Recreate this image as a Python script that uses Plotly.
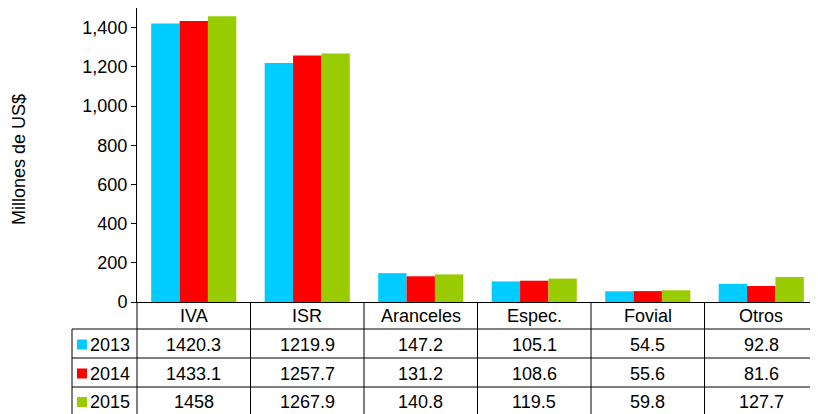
import plotly.graph_objects as go

categories = ["IVA", "ISR", "Aranceles", "Espec.", "Fovial", "Otros"]
years = ["2013", "2014", "2015"]
v2013 = [1420.3, 1219.9, 147.2, 105.1, 54.5, 92.8]
v2014 = [1433.1, 1257.7, 131.2, 108.6, 55.6, 81.6]
v2015 = [1458, 1267.9, 140.8, 119.5, 59.8, 127.7]
labels2013 = ["1420.3", "1219.9", "147.2", "105.1", "54.5", "92.8"]
labels2014 = ["1433.1", "1257.7", "131.2", "108.6", "55.6", "81.6"]
labels2015 = ["1458", "1267.9", "140.8", "119.5", "59.8", "127.7"]
colors = ["#00CCFF", "#FF0000", "#99CC00"]

# the page places the figure 8px from the window's top-left corner
W, H = 810, 406
L, T, B0 = 129, 0, 294  # plot left, top, bottom (figure pixels)
R = W
ph = B0 - T
pw = R - L
FONT = "Liberation Sans, Arial, sans-serif"
FS = 18

def py(ypx):
    return (B0 - ypx) / ph

def px(xpx):
    return (xpx - L) / pw

fig = go.Figure()
series = [v2013, v2014, v2015]
for yr, vals, c in zip(years, series, colors):
    fig.add_trace(go.Bar(x=categories, y=vals, name=yr, marker=dict(color=c, line=dict(width=0))))

shapes = []
line = dict(color="black", width=1)
row_lines = [321, 350, 379]
for yl in row_lines:
    shapes.append(dict(type="line", xref="paper", yref="paper", x0=px(64), x1=1.0,
                       y0=py(yl), y1=py(yl), line=line))
shapes.append(dict(type="line", xref="paper", yref="paper", x0=px(64), x1=px(64),
                   y0=py(321), y1=py(H + 5), line=line))
n = len(categories)
for k in range(n + 1):
    shapes.append(dict(type="line", xref="paper", yref="paper", x0=k / n, x1=k / n,
                       y0=0, y1=py(H + 5), line=line))

annotations = []
row_centers = [308, 336.5, 365.5, 394]
for i, cat in enumerate(categories):
    annotations.append(dict(x=cat, xref="x", y=py(row_centers[0]), yref="paper", text=cat,
                            showarrow=False, font=dict(size=FS, color="black", family=FONT),
                            xanchor="center", yanchor="middle"))
for r, labs in enumerate([labels2013, labels2014, labels2015]):
    for i, cat in enumerate(categories):
        annotations.append(dict(x=cat, xref="x", y=py(row_centers[r + 1]), yref="paper", text=labs[i],
                                showarrow=False, font=dict(size=FS, color="black", family=FONT),
                                xanchor="center", yanchor="middle"))
    yc = row_centers[r + 1]
    shapes.append(dict(type="rect", xref="paper", yref="paper", x0=px(69), x1=px(79),
                       y0=py(yc + 5), y1=py(yc - 5), fillcolor=colors[r], line=dict(width=0)))
    annotations.append(dict(x=px(80), xref="paper", y=py(yc), yref="paper", text=years[r],
                            showarrow=False, font=dict(size=FS, color="black", family=FONT),
                            xanchor="left", yanchor="middle"))

annotations.append(dict(x=px(11), xref="paper", y=py(152), yref="paper", text="Millones de US$",
                        textangle=-90, showarrow=False, font=dict(size=FS, color="black", family=FONT),
                        xanchor="center", yanchor="middle"))

fig.update_layout(
    width=W, height=H,
    margin=dict(l=L, r=W - R, t=T, b=H - B0, pad=0),
    paper_bgcolor="white", plot_bgcolor="white",
    barmode="group", bargap=0.25, bargroupgap=0,
    showlegend=False,
    font=dict(family=FONT, size=FS, color="black"),
    xaxis=dict(showticklabels=False, ticks="", showline=True, linecolor="black", linewidth=1,
               showgrid=False, zeroline=False, fixedrange=True),
    yaxis=dict(range=[0, 1500], tickvals=[0, 200, 400, 600, 800, 1000, 1200, 1400],
               tickformat=",", ticks="outside", ticklen=5, tickcolor="black",
               showline=True, linecolor="black", linewidth=1, showgrid=False, zeroline=False,
               tickfont=dict(size=FS, family=FONT, color="black"), fixedrange=True),
    shapes=shapes, annotations=annotations,
)

fig.write_html("out.html")
